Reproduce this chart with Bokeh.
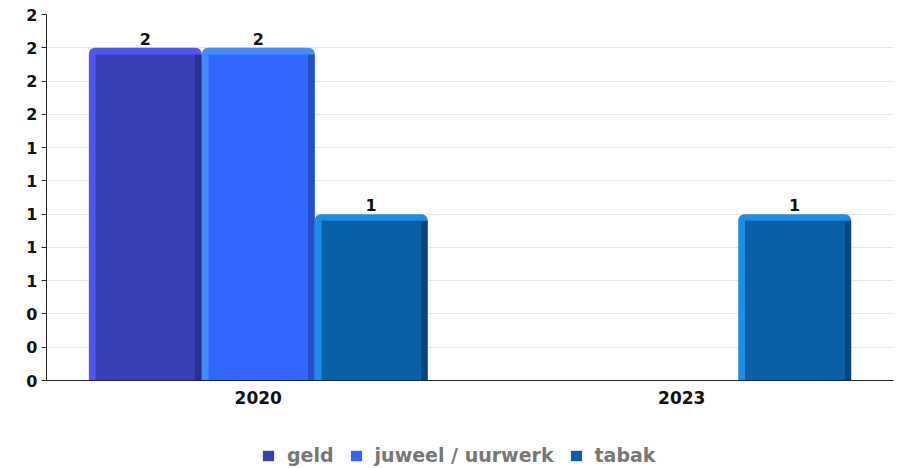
from bokeh.plotting import figure
from bokeh.layouts import column
from bokeh.models import (ColumnDataSource, FactorRange, FixedTicker, Legend, LegendItem)
from bokeh.transform import dodge
from bokeh.core.properties import value
from bokeh.embed import file_html
from bokeh.resources import INLINE

# ---- data ----
years = ["2020", "2023"]
series = ["geld", "juweel / uurwerk", "tabak"]
geld = [2, 0]
juweel = [2, 0]
tabak = [1, 1]
y_ticks = [0, 0.2, 0.4, 0.6, 0.8, 1.0, 1.2, 1.4, 1.6, 1.8, 2.0, 2.2]
y_tick_labels = ["0", "0", "0", "1", "1", "1", "1", "1", "2", "2", "2", "2"]

# ---- style ----
main_colors = ["#3a3fb6", "#3366ff", "#0b5fa4"]
light_colors = ["#4e57f6", "#3f8eff", "#1a8ee8"]
dark_colors = ["#2c3090", "#264fc8", "#07467c"]
FONT = "DejaVu Sans"

p = figure(x_range=FactorRange(factors=years, range_padding=0),
           y_range=(0, 2.2), width=900, height=420,
           output_backend="svg", toolbar_location=None,
           min_border_left=46, min_border_right=7, min_border_top=14,
           min_border_bottom=40)
p.outline_line_color = None
p.background_fill_color = "white"
p.border_fill_color = "white"

group_w = 0.8
bw = group_w / len(series)
s_x = 0.016   # side bevel width (category units)
s_y = 0.04    # top bevel height (value units)

for i, (name, vals) in enumerate(zip(series, [geld, juweel, tabak])):
    xs = [y for y, v in zip(years, vals) if v > 0]
    vs = [v for v in vals if v > 0]
    src = ColumnDataSource(dict(year=xs, val=vs,
                                inner=[v - s_y for v in vs],
                                lab=[str(v) for v in vs]))
    off = (i - (len(series) - 1) / 2) * bw
    p.vbar(x=dodge("year", off, range=p.x_range), top="val", width=bw,
           source=src, fill_color=light_colors[i], line_color=None,
           border_radius=(6, 6, 0, 0))
    p.vbar(x=dodge("year", off + bw / 2 - s_x / 2, range=p.x_range), top="inner",
           width=s_x, source=src, fill_color=dark_colors[i], line_color=None)
    p.vbar(x=dodge("year", off, range=p.x_range), top="inner",
           width=bw - 2 * s_x, source=src, fill_color=main_colors[i],
           line_color=None)
    p.text(x=dodge("year", off, range=p.x_range), y="val", text="lab", source=src,
           text_font=value(FONT), text_font_style="bold", text_font_size="16px",
           text_align="center", text_baseline="bottom", y_offset=-3,
           text_color="#111111")

# axes
p.yaxis.ticker = FixedTicker(ticks=y_ticks)
p.yaxis.major_label_overrides = {t: l for t, l in zip(y_ticks, y_tick_labels)}
p.yaxis.major_label_text_font = FONT
p.yaxis.major_label_text_font_style = "bold"
p.yaxis.major_label_text_font_size = "16px"
p.yaxis.major_label_text_color = "#111111"
p.yaxis.axis_line_color = "#222222"
p.yaxis.major_tick_line_color = "#222222"
p.yaxis.major_tick_out = 5
p.yaxis.major_tick_in = 0
p.yaxis.minor_tick_line_color = None
p.yaxis.major_label_standoff = 4

p.xaxis.major_label_text_font = FONT
p.xaxis.major_label_text_font_style = "bold"
p.xaxis.major_label_text_font_size = "17px"
p.xaxis.major_label_text_color = "#111111"
p.xaxis.axis_line_color = "#222222"
p.xaxis.major_tick_line_color = None
p.xaxis.major_label_standoff = 4

p.xgrid.grid_line_color = None
p.ygrid.ticker = FixedTicker(ticks=y_ticks)
p.ygrid.grid_line_color = "#e6e6e6"
p.ygrid.grid_line_width = 1

# ---- legend strip ----
lf = figure(width=900, height=46, x_range=(0, 1), y_range=(0, 1),
            output_backend="svg", toolbar_location=None,
            x_axis_location=None, y_axis_location=None,
            min_border=0)
lf.outline_line_color = None
lf.grid.grid_line_color = None
items = []
for i, name in enumerate(series):
    r = lf.vbar(x=[-5], top=[-5], width=0.1, fill_color=main_colors[i],
                line_color=None)
    items.append(LegendItem(label=name, renderers=[r]))

legend = Legend(items=items, orientation="horizontal", location=(215, 0),
                label_text_font=FONT, label_text_font_style="bold",
                label_text_font_size="19px", label_text_color="#777777",
                glyph_width=14, glyph_height=13, spacing=15, label_standoff=12,
                border_line_color=None, background_fill_alpha=0,
                margin=0, padding=0)
lf.add_layout(legend, "center")

layout = column(p, lf, spacing=0)
open("out.html", "w").write(file_html(layout, INLINE))
